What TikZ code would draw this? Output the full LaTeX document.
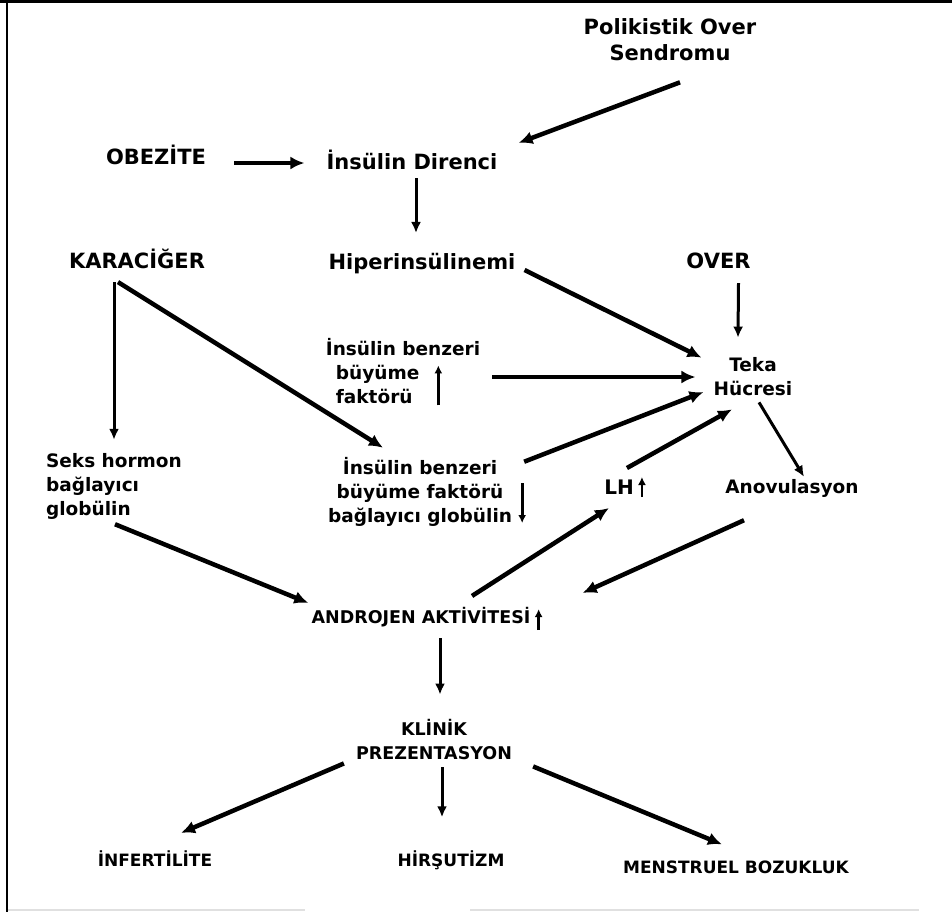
\documentclass[tikz,border=0pt]{standalone}
\usepackage{fontspec}
\setmainfont{DejaVu Sans}
\usetikzlibrary{arrows.meta}

\begin{document}
\begin{tikzpicture}[x=1pt, y=-1pt,
    big/.style={inner sep=0pt, font=\fontsize{21}{26}\selectfont\bfseries, align=center},
    mid/.style={inner sep=0pt, font=\fontsize{18.5}{24}\selectfont\bfseries},
    small/.style={inner sep=0pt, font=\fontsize{17.5}{24}\selectfont\bfseries, align=center},
    arr/.style={line width=4.5pt, -{Latex[length=14pt,width=13pt]}},
    varr/.style={line width=3pt, -{Latex[length=11pt,width=10pt]}},
    tick/.style={line width=2.8pt, -{Latex[length=8pt,width=8pt]}}]
    \useasboundingbox (0,0) rectangle (952,914);
    \draw[line width=3pt] (0,1.5) -- (952,1.5);
    \draw[line width=2.5pt] (7,0) -- (7,912);
    \draw[black!12, line width=2pt] (8,910) -- (305,910) (470,910) -- (919,910);
    \node[big] (pcos) at (670,40) {Polikistik Over\\Sendromu};
    \node[big] (obez) at (156,155) {OBEZİTE};
    \node[big] (insdir) at (412,160) {İnsülin Direnci};
    \node[big] (karac) at (137,259) {KARACİĞER};
    \node[big] (hiper) at (422,263.5) {Hiperinsülinemi};
    \node[big] (over) at (718.5,261) {OVER};
    \node[mid, align=left] (igf) at (403,371.5) {İnsülin benzeri\\\hspace{10pt}büyüme\\\hspace{10pt}faktörü};
    \node[mid, align=center] (teka) at (753,377) {Teka\\Hücresi};
    \node[mid, align=left] (seks) at (114,486) {Seks hormon\\bağlayıcı\\globülin};
    \node[mid, align=center] (igfbp) at (420,491.5) {İnsülin benzeri\\büyüme faktörü\\bağlayıcı globülin};
    \node[big, font=\fontsize{20}{24}\selectfont\bfseries] (lh) at (619,487.5) {LH};
    \node[mid] (anov) at (792,488) {Anovulasyon};
    \node[small] (andro) at (421,617) {ANDROJEN AKTİVİTESİ};
    \node[small] (klinik) at (434,739) {KLİNİK\\PREZENTASYON};
    \node[small, font=\fontsize{17}{24}\selectfont\bfseries] (infert) at (155,859) {İNFERTİLİTE};
    \node[small, font=\fontsize{17}{24}\selectfont\bfseries] (hirs) at (451,860) {HİRŞUTİZM};
    \node[small, font=\fontsize{17}{24}\selectfont\bfseries] (menst) at (736,867) {MENSTRUEL BOZUKLUK};
    \draw[arr] ([shift={(10,21)}]pcos.south) -- ([shift={(21,-7)}]insdir.north east);
    \draw[arr] ([shift={(28,8)}]obez.east) -- ([shift={(-22,3)}]insdir.west);
    \draw[varr] ([shift={(4,8)}]insdir.south) -- ([shift={(-6,-20)}]hiper.north);
    \draw[arr] ([shift={(9,6.5)}]hiper.east) -- ([shift={(-12,0)}]teka.north west);
    \draw[varr] ([shift={(20,14)}]over.south) -- ([shift={(-15,-20)}]teka.north);
    \draw[varr] ([shift={(-23,13)}]karac.south) -- ([shift={(0,-13)}]seks.north);
    \draw[arr] ([shift={(-19,13)}]karac.south) -- ([shift={(-37,-9)}]igfbp.north);
    \draw[arr] ([shift={(12,5.5)}]igf.east) -- ([shift={(-18,0)}]teka.west);
    \draw[tick] ([shift={(-42,1)}]igf.south east) -- ([shift={(-42,-39)}]igf.south east);
    \draw[arr] ([shift={(12,5)}]igfbp.north east) -- ([shift={(-10,15)}]teka.west);
    \draw[tick] ([shift={(10,-8.5)}]igfbp.east) -- ([shift={(10,31.5)}]igfbp.east);
    \draw[arr] ([shift={(-7,-12)}]lh.north east) -- ([shift={(-21,13)}]teka.south);
    \draw[tick] ([shift={(8,9.5)}]lh.east) -- ([shift={(8,-10.5)}]lh.east);
    \draw[varr] ([shift={(6,6)}]teka.south) -- ([shift={(12,-2)}]anov.north);
    \draw[arr] ([shift={(-48,23)}]anov.south) -- ([shift={(52,-14)}]andro.north east);
    \draw[tick] ([shift={(8,3)}]andro.south east) -- ([shift={(8,-18)}]andro.south east);
    \draw[arr] ([shift={(1,5)}]seks.south) -- ([shift={(-3,-4)}]andro.north west);
    \draw[arr] ([shift={(51,-11)}]andro.north) -- ([shift={(-10,13)}]lh.south);
    \draw[varr] ([shift={(19,11)}]andro.south) -- ([shift={(6,-24)}]klinik.north);
    \draw[arr] ([shift={(-12,4)}]klinik.south west) -- ([shift={(26,-18)}]infert.north);
    \draw[varr] ([shift={(8,8)}]klinik.south) -- ([shift={(-9,-33)}]hirs.north);
    \draw[arr] ([shift={(21,7)}]klinik.south east) -- ([shift={(-14,-16)}]menst.north);
\end{tikzpicture}
\end{document}
